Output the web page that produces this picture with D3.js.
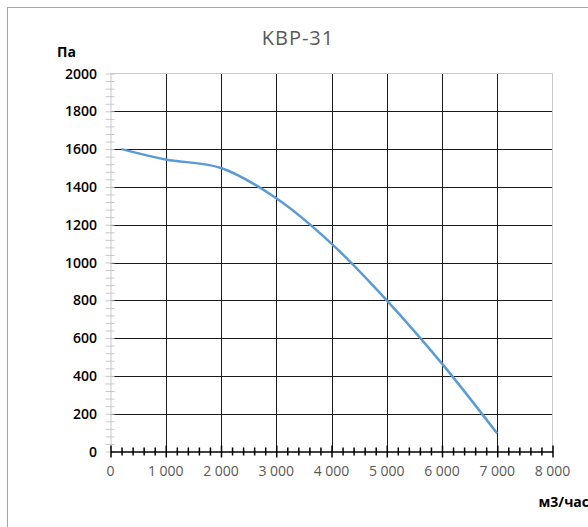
<!DOCTYPE html>
<html lang="ru">
<head>
<meta charset="UTF-8">
<title>KBP-31</title>
<style>
    body {
        margin: 0;
        padding: 0;
        background-color: #fff;
    }
    svg text {
        font-family: "Open Sans", "Liberation Sans", sans-serif;
    }
</style>
</head>
<body>
<svg id="chart" width="588" height="527"></svg>

<script src="https://d3js.org/d3.v7.min.js"></script>
<script>
    // данные кривой (м3/час, Па)
    var flow = [200, 1000, 2000, 3000, 4000, 5000, 6000, 7000];
    var pressure = [1600, 1545, 1500, 1340, 1100, 800, 465, 95];
    var xTicks = [0, 1000, 2000, 3000, 4000, 5000, 6000, 7000, 8000];
    var yTicks = [0, 200, 400, 600, 800, 1000, 1200, 1400, 1600, 1800, 2000];
    var title = "KBP-31";
    var yTitle = "Па";
    var xTitle = "м3/час";

    const svg = d3.select("#chart");

    // рамка диаграммы
    svg.append("rect")
      .attr("x", 7.5).attr("y", 7.5)
      .attr("width", 600).attr("height", 560)
      .attr("fill", "none")
      .attr("stroke", "#a6a6a6");

    const xScale = d3.scaleLinear().domain([0, 8000]).range([110.5, 552.5]);
    const yScale = d3.scaleLinear().domain([0, 2000]).range([451.5, 73.5]);

    // сетка
    svg.append("g").selectAll("line")
      .data(xTicks.slice(1, -1))
      .join("line")
      .attr("x1", d => Math.round(xScale(d)) + 0.5)
      .attr("x2", d => Math.round(xScale(d)) + 0.5)
      .attr("y1", yScale(2000)).attr("y2", yScale(0))
      .attr("stroke", "#1a1a1a");
    svg.append("g").selectAll("line")
      .data(yTicks.slice(1, -1))
      .join("line")
      .attr("x1", xScale(0)).attr("x2", xScale(8000))
      .attr("y1", d => Math.round(yScale(d)) + 0.5)
      .attr("y2", d => Math.round(yScale(d)) + 0.5)
      .attr("stroke", "#1a1a1a");

    // граница области построения
    svg.append("path")
      .attr("d", `M${xScale(0)},${yScale(2000)}H${xScale(8000)}V${yScale(0)}`)
      .attr("fill", "none")
      .attr("stroke", "#c8c8c8");

    // ось Y (светлая, с малыми делениями)
    const yAxis = d3.axisLeft(yScale)
      .tickValues(d3.range(0, 2001, 40))
      .tickSize(5)
      .tickSizeOuter(0)
      .tickFormat("");
    const gy = svg.append("g")
      .attr("transform", `translate(${xScale(0)},0)`)
      .call(yAxis);
    gy.select(".domain").attr("stroke", "#c8c8c8");
    gy.selectAll(".tick line")
      .attr("x1", 4)
      .attr("stroke", "#c8c8c8");

    svg.append("g").selectAll("text")
      .data(yTicks)
      .join("text")
      .attr("x", 97)
      .attr("y", d => yScale(d) + 5)
      .attr("text-anchor", "end")
      .attr("font-size", 14)
      .attr("font-weight", 600)
      .attr("fill", "#000")
      .text(d => d);

    // ось X (чёрная)
    const xAxis = d3.axisBottom(xScale)
      .tickValues(d3.range(0, 8001, 200))
      .tickSize(4)
      .tickSizeOuter(0)
      .tickFormat("");
    const gx = svg.append("g")
      .attr("transform", `translate(0,${yScale(0)})`)
      .call(xAxis);
    gx.select(".domain").attr("stroke", "#000").attr("stroke-width", 1.5);
    gx.selectAll(".tick line")
      .attr("y1", d => d % 1000 === 0 ? -6 : -4)
      .attr("y2", d => d % 1000 === 0 ? 6 : 4)
      .attr("stroke", "#000")
      .attr("stroke-width", 1.5);

    const fmt = d => d3.format(",")(d).replace(",", " ");
    svg.append("g").selectAll("text")
      .data(xTicks)
      .join("text")
      .attr("x", d => xScale(d))
      .attr("y", 476)
      .attr("text-anchor", "middle")
      .attr("font-size", 14)
      .attr("fill", "#595959")
      .text(d => fmt(d));

    // кривая
    const line = d3.line()
      .x((d, i) => xScale(flow[i]))
      .y((d, i) => yScale(pressure[i]))
      .curve(d3.curveCatmullRom.alpha(0.5));
    svg.append("path")
      .attr("d", line(flow))
      .attr("fill", "none")
      .attr("stroke", "#5b9bd5")
      .attr("stroke-width", 2.5);

    // подписи
    svg.append("text")
      .attr("x", 298).attr("y", 45)
      .attr("text-anchor", "middle")
      .attr("font-size", 20)
      .attr("letter-spacing", 1)
      .attr("fill", "#595959")
      .text(title);
    svg.append("text")
      .attr("x", 57).attr("y", 57)
      .attr("font-size", 14)
      .attr("font-weight", 700)
      .text(yTitle);
    svg.append("text")
      .attr("x", 589).attr("y", 507)
      .attr("text-anchor", "end")
      .attr("font-size", 14)
      .attr("font-weight", 700)
      .text(xTitle);
</script>
</body>
</html>
